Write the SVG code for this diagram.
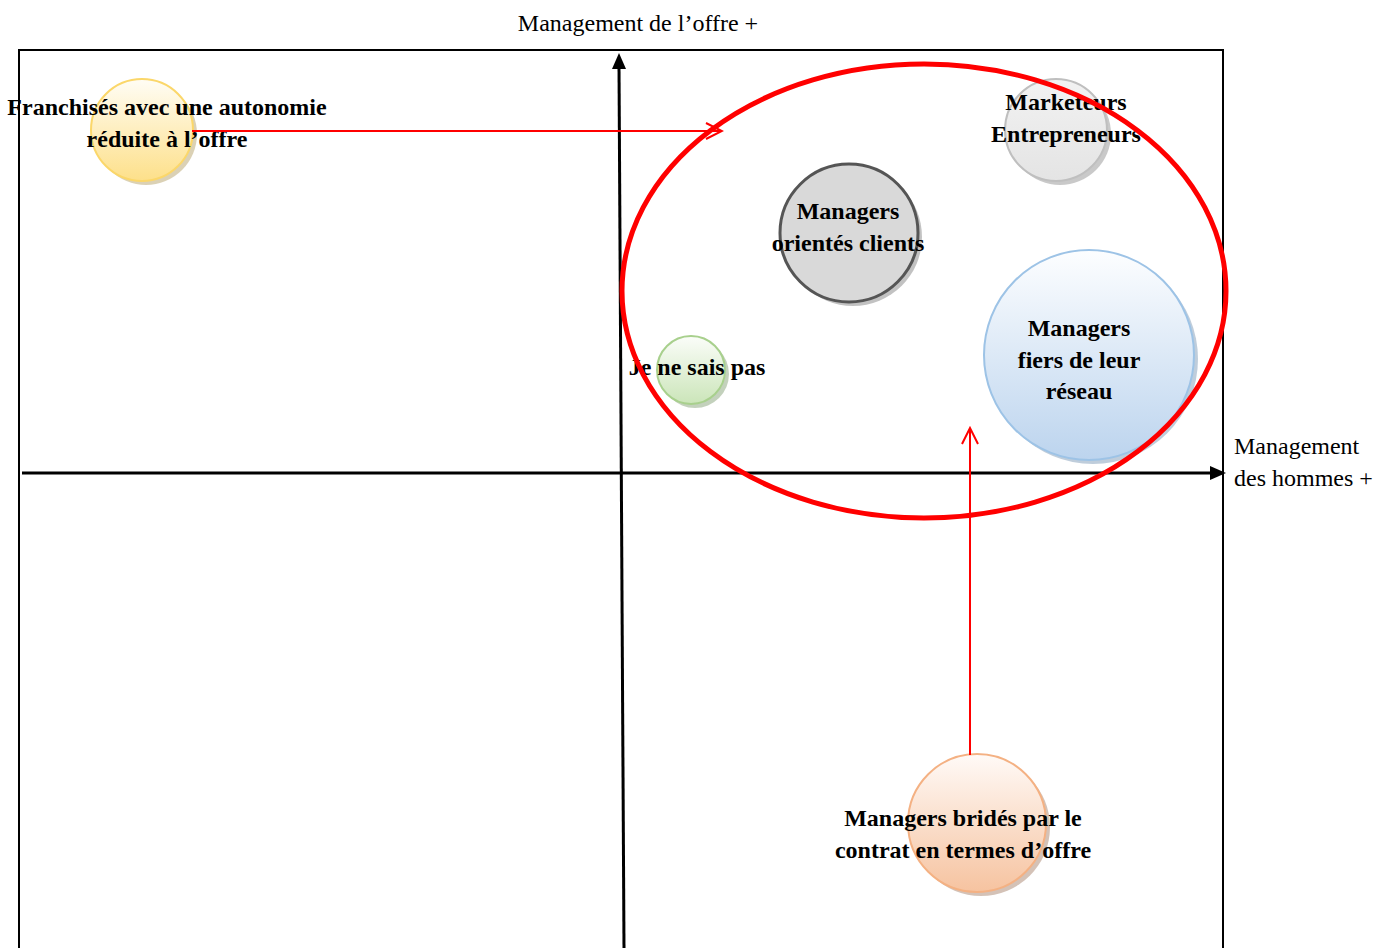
<svg xmlns="http://www.w3.org/2000/svg" width="1384" height="948" viewBox="0 0 1384 948">
<style>
.lbl{font-family:"Liberation Serif","Times New Roman",serif;font-size:24px;fill:#000}
.b{font-weight:bold;text-anchor:middle;font-size:24px}
.axis{stroke:#000;stroke-width:3;fill:none}
.red{stroke:#f00;stroke-width:2;fill:none}
.shadow{opacity:0.45}
</style>
<defs>
<linearGradient id="gY" x1="0" y1="0" x2="0" y2="1"><stop offset="0" stop-color="#fffdf5"/><stop offset="1" stop-color="#fde08a"/></linearGradient>
<linearGradient id="gG" x1="0" y1="0" x2="0" y2="1"><stop offset="0" stop-color="#fbfdf9"/><stop offset="1" stop-color="#cbe5b9"/></linearGradient>
<linearGradient id="gB" x1="0" y1="0" x2="0" y2="1"><stop offset="0" stop-color="#fdfeff"/><stop offset="1" stop-color="#bcd4ee"/></linearGradient>
<linearGradient id="gO" x1="0" y1="0" x2="0" y2="1"><stop offset="0" stop-color="#fffaf7"/><stop offset="1" stop-color="#f6c3a0"/></linearGradient>
<linearGradient id="gL" x1="0" y1="0" x2="0" y2="1"><stop offset="0" stop-color="#f2f2f2"/><stop offset="1" stop-color="#e4e4e4"/></linearGradient>
<marker id="ro" markerWidth="20" markerHeight="20" refX="18" refY="9" orient="auto" markerUnits="userSpaceOnUse"><path d="M2,1 L18,9 L2,17" fill="none" stroke="#f00" stroke-width="2"/></marker>
</defs>
<rect width="1384" height="948" fill="#fff"/>
<path d="M19,950 L19,50 L1223,50 L1223,950" fill="none" stroke="#000" stroke-width="2"/>
<g id="axes">
<line class="axis" x1="624" y1="948" x2="619" y2="66"/>
<path d="M619,53 L612,69 L626,69 Z" fill="#000"/>
<line class="axis" x1="22" y1="473" x2="1212" y2="473"/>
<path d="M1226,473 L1210,466 L1210,480 Z" fill="#000"/>
</g>
<text class="lbl" x="638" y="31" text-anchor="middle">Management de l’offre +</text>
<text class="lbl" x="1234" y="454">Management</text>
<text class="lbl" x="1234" y="486">des hommes +</text>
<g id="n-franchises">
<circle class="shadow" cx="146" cy="134" r="51" fill="#b09a5a"/>
<circle cx="142" cy="130" r="51" fill="url(#gY)" stroke="#fbd76a" stroke-width="2"/>
<text class="lbl b" x="167" y="115">Franchisés avec une autonomie</text>
<text class="lbl b" x="167" y="147">réduite à l’offre</text>
</g>
<g id="n-jnsp">
<circle class="shadow" cx="695" cy="374" r="34" fill="#7a9a6a"/>
<circle cx="691" cy="370" r="34" fill="url(#gG)" stroke="#a8d08d" stroke-width="2"/>
<text class="lbl b" x="697" y="375">Je ne sais pas</text>
</g>
<g id="n-clients">
<circle class="shadow" cx="853" cy="237" r="69" fill="#777"/>
<circle cx="849" cy="233" r="69" fill="#d9d9d9" stroke="#555" stroke-width="3"/>
<text class="lbl b" x="848" y="219">Managers</text>
<text class="lbl b" x="848" y="251">orientés clients</text>
</g>
<g id="n-marketeurs">
<circle class="shadow" cx="1060" cy="134" r="51" fill="#888"/>
<circle cx="1056" cy="130" r="51" fill="url(#gL)" stroke="#bfbfbf" stroke-width="2"/>
<text class="lbl b" x="1066" y="110">Marketeurs</text>
<text class="lbl b" x="1066" y="142">Entrepreneurs</text>
</g>
<g id="n-reseau">
<circle class="shadow" cx="1093" cy="359" r="105" fill="#7090b0"/>
<circle cx="1089" cy="355" r="105" fill="url(#gB)" stroke="#9dc3e6" stroke-width="2"/>
<text class="lbl b" x="1079" y="336">Managers</text>
<text class="lbl b" x="1079" y="368">fiers de leur</text>
<text class="lbl b" x="1079" y="399">réseau</text>
</g>
<g id="n-brides">
<circle class="shadow" cx="981" cy="827" r="69" fill="#a07860"/>
<circle cx="977" cy="823" r="69" fill="url(#gO)" stroke="#f4b183" stroke-width="2"/>
<text class="lbl b" x="963" y="826">Managers bridés par le</text>
<text class="lbl b" x="963" y="858">contrat en termes d’offre</text>
</g>
<g id="connectors">
<ellipse cx="924" cy="291" rx="302" ry="227" fill="none" stroke="#f00" stroke-width="5"/>
<line class="red" x1="192" y1="131" x2="722" y2="131" marker-end="url(#ro)"/>
<line class="red" x1="970" y1="755" x2="970" y2="428" marker-end="url(#ro)"/>
</g>
</svg>
